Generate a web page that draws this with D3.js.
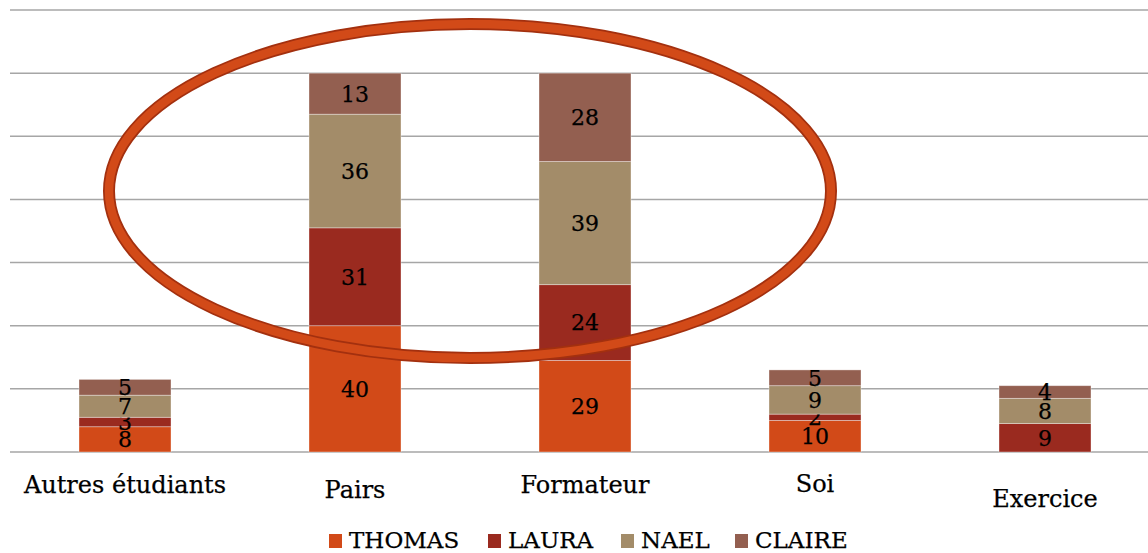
<!DOCTYPE html>
<html>
<head>
<meta charset="utf-8">
<script src="https://cdn.jsdelivr.net/npm/d3@7"></script>
<style>
  body { margin: 0; background: #fff; }
  text { font-family: "DejaVu Serif", serif; fill: #000; stroke: #000; stroke-width: 0.25px; }
</style>
</head>
<body>
<svg id="chart" width="1148" height="553"></svg>
<script>
// données
var categories = ["Autres étudiants", "Pairs", "Formateur", "Soi", "Exercice"];
var series = ["THOMAS", "LAURA", "NAEL", "CLAIRE"];
var thomas = [8, 40, 29, 10, 0];
var laura = [3, 31, 24, 2, 9];
var nael = [7, 36, 39, 9, 8];
var claire = [5, 13, 28, 5, 4];
var yTicks = [0, 20, 40, 60, 80, 100, 120, 140];

var colors = ["#d24a18", "#9a2a1f", "#a38c69", "#935f50"];
// décalage vertical des étiquettes de catégories (comme sur l'original)
var labelShift = [0, 5, 0, -1, 14];

var svg = d3.select("svg#chart"),
    width = +svg.attr("width"),
    height = +svg.attr("height");

var rows = categories.map(function(c, i) {
    return { cat: c, THOMAS: thomas[i], LAURA: laura[i], NAEL: nael[i], CLAIRE: claire[i] };
});

var x = d3.scaleBand()
    .domain(categories)
    .range([10, 1160])
    .paddingInner(0.6)
    .paddingOuter(0.3);

var y = d3.scaleLinear()
    .domain([0, 140])
    .range([452, 10]);

var color = d3.scaleOrdinal().domain(series).range(colors);

// grille
svg.append("g")
    .selectAll("line")
    .data(yTicks)
    .enter().append("line")
    .attr("x1", 10)
    .attr("x2", width)
    .attr("y1", function(d) { return y(d); })
    .attr("y2", function(d) { return y(d); })
    .attr("stroke", "#a6a6a6")
    .attr("stroke-width", 1.5);

var stacked = d3.stack().keys(series)(rows);

var layer = svg.append("g")
    .selectAll("g")
    .data(stacked)
    .enter().append("g")
    .attr("fill", function(d) { return color(d.key); });

layer.selectAll("rect")
    .data(function(d) { return d; })
    .enter().append("rect")
    .attr("x", function(d) { return x(d.data.cat); })
    .attr("width", x.bandwidth())
    .attr("y", function(d) { return y(d[1]); })
    .attr("height", function(d) { return y(d[0]) - y(d[1]); })
    .attr("stroke", "#fff")
    .attr("stroke-opacity", 0.45)
    .attr("stroke-width", 0.8);

// étiquettes de valeurs
layer.selectAll("text")
    .data(function(d) { return d.filter(function(s) { return s[1] - s[0] > 0; }); })
    .enter().append("text")
    .attr("x", function(d) { return x(d.data.cat) + x.bandwidth() / 2; })
    .attr("y", function(d) { return y((d[0] + d[1]) / 2); })
    .attr("dy", "0.36em")
    .attr("text-anchor", "middle")
    .style("font-size", "22px")
    .text(function(d) { return d[1] - d[0]; });

// axe des catégories
svg.append("g")
    .selectAll("text")
    .data(categories)
    .enter().append("text")
    .attr("x", function(d) { return x(d) + x.bandwidth() / 2; })
    .attr("y", function(d, i) { return 493 + labelShift[i]; })
    .attr("text-anchor", "middle")
    .style("font-size", "24px")
    .text(function(d) { return d; });

// ellipse de mise en évidence
var ell = svg.append("g");
ell.append("ellipse")
    .attr("cx", 470).attr("cy", 191).attr("rx", 361).attr("ry", 167)
    .attr("fill", "none")
    .attr("stroke", "#a3300f")
    .attr("stroke-width", 12);
ell.append("ellipse")
    .attr("cx", 470).attr("cy", 191).attr("rx", 361).attr("ry", 167)
    .attr("fill", "none")
    .attr("stroke", "#d24a18")
    .attr("stroke-width", 8.5);

// légende
var legendX = [329, 488, 621, 735];
var legend = svg.append("g")
    .selectAll("g")
    .data(series)
    .enter().append("g")
    .attr("transform", function(d, i) { return "translate(" + legendX[i] + ",534)"; });

legend.append("rect")
    .attr("width", 13)
    .attr("height", 14)
    .attr("fill", function(d) { return color(d); });

legend.append("text")
    .attr("x", 20)
    .attr("y", 14)
    .style("font-size", "23px")
    .text(function(d) { return d; });
</script>
</body>
</html>
